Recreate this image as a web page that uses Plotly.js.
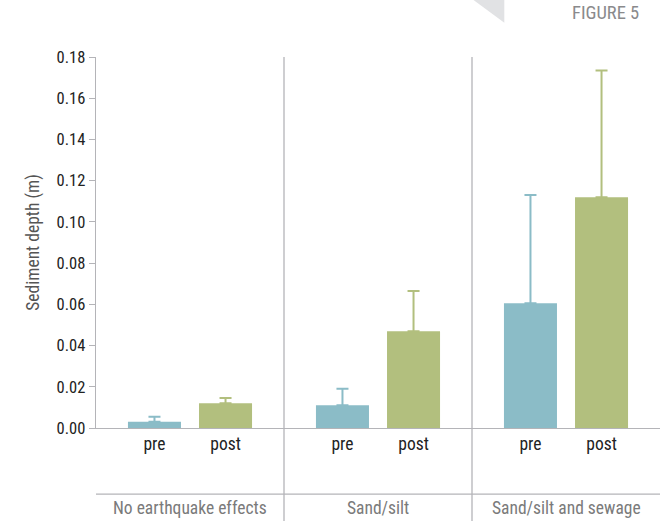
<!DOCTYPE html>
<html>
<head>
<meta charset="utf-8">
<script src="https://cdn.plot.ly/plotly-3.0.1.min.js"></script>
<style>html,body{margin:0;padding:0;background:#fff;}#chart{width:664px;height:521px;}</style>
</head>
<body>
<div id="chart"></div>
<script>
const groups = ["No earthquake effects", "Sand/silt", "Sand/silt and sewage"];
const phases = ["pre", "post"];
const preValues = [0.003, 0.011, 0.0605];
const postValues = [0.012, 0.047, 0.112];
const preErrorPlus = [0.0025, 0.008, 0.0525];
const postErrorPlus = [0.0025, 0.0195, 0.0615];
const yTicks = [0, 0.02, 0.04, 0.06, 0.08, 0.10, 0.12, 0.14, 0.16, 0.18];

const FONT = "'Liberation Sans Narrow', 'Roboto Condensed', 'DejaVu Sans Condensed', Roboto, sans-serif";
const preColor = "#8bbcc7";
const postColor = "#b2bf7e";
const lineColor = "#b4b4b8";

const offset = 0.189;
const barWidth = 0.282;
const idx = groups.map((g, i) => i);
const preX = idx.map(i => i - offset);
const postX = idx.map(i => i + offset);

function barTrace(name, xs, ys, errs, color) {
  return {
    type: "bar", name: name, x: xs, y: ys, width: barWidth,
    marker: {color: color, line: {width: 0}},
    error_y: {type: "data", symmetric: false, array: errs, arrayminus: errs.map(() => 0),
              color: color, thickness: 2, width: 6},
    hoverinfo: "y"
  };
}

const data = [
  barTrace(phases[0], preX, preValues, preErrorPlus, preColor),
  barTrace(phases[1], postX, postValues, postErrorPlus, postColor)
];

const tickvals = [], ticktext = [];
idx.forEach(i => { tickvals.push(preX[i], postX[i]); ticktext.push(phases[0], phases[1]); });

const shapes = [];
shapes.push({type: "path", xref: "paper", yref: "paper",
  path: "M 0.669 1.154 L 0.724 1.154 L 0.724 1.092 Z",
  fillcolor: "#e1e2e4", line: {width: 0}});
[0.5, 1.5].forEach(v => shapes.push({type: "line", xref: "x", yref: "paper",
  x0: v, x1: v, y0: -0.252, y1: 1, line: {color: lineColor, width: 1.3}}));
shapes.push({type: "line", xref: "paper", yref: "paper", x0: 0, x1: 1, y0: -0.178, y1: -0.178,
  line: {color: lineColor, width: 1.3}});

const annotations = groups.map((g, i) => ({
  text: g, x: i, xref: "x", y: -0.215, yref: "paper", showarrow: false,
  xanchor: "center", yanchor: "middle", font: {family: FONT, size: 17.5, color: "#7a7a7a"}
}));
annotations.push({text: "FIGURE 5", xref: "paper", yref: "paper", x: 0.966, y: 1.118,
  xanchor: "right", yanchor: "middle", showarrow: false,
  font: {family: FONT, size: 18.5, color: "#8a8a8c"}});

const layout = {
  width: 664, height: 521,
  margin: {l: 96, r: 4, t: 57, b: 93},
  paper_bgcolor: "#fff", plot_bgcolor: "#fff",
  showlegend: false,
  barmode: "overlay",
  font: {family: FONT},
  xaxis: {
    range: [-0.5, 2.5], tickvals: tickvals, ticktext: ticktext,
    showgrid: false, zeroline: false, showline: true, linecolor: lineColor, linewidth: 1.3,
    ticks: "", tickfont: {family: FONT, size: 17.5, color: "#222"}, fixedrange: true
  },
  yaxis: {
    range: [0, 0.18], tickvals: yTicks, tickformat: ".2f",
    showgrid: false, zeroline: false, showline: true, linecolor: lineColor, linewidth: 1.3,
    ticks: "outside", ticklen: 6, tickcolor: lineColor, tickwidth: 1,
    tickfont: {family: FONT, size: 16.5, color: "#222"},
    title: {text: "Sediment depth (m)", font: {family: FONT, size: 17.5, color: "#555"}, standoff: 12},
    fixedrange: true
  },
  shapes: shapes,
  annotations: annotations
};

Plotly.newPlot("chart", data, layout, {displayModeBar: false, staticPlot: true});
</script>
</body>
</html>
